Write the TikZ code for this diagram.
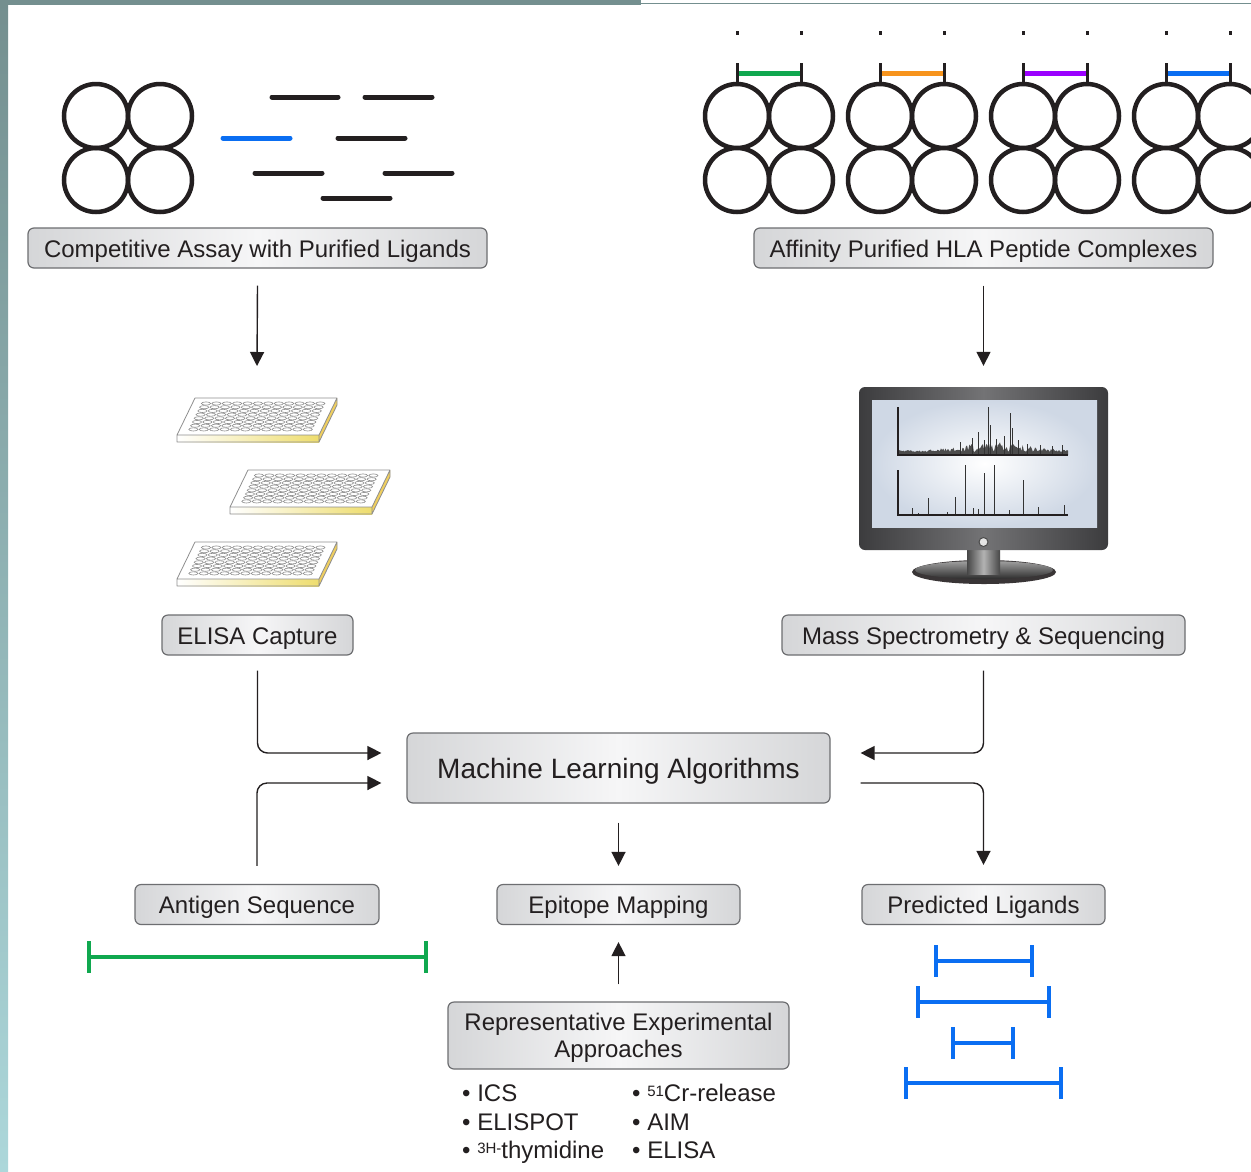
\documentclass[tikz,border=0pt]{standalone}
\usepackage{fontspec}
\setmainfont{Liberation Sans}
\usetikzlibrary{arrows.meta}
\definecolor{ink}{HTML}{231F20}
\definecolor{frame}{HTML}{748F8F}
\definecolor{framelow}{HTML}{ACD7DA}
\definecolor{boxedge}{HTML}{6D6E71}
\definecolor{boxside}{HTML}{D5D6D8}
\definecolor{boxmid}{HTML}{F6F6F7}
\definecolor{pgreen}{HTML}{10A84F}
\definecolor{porange}{HTML}{F7941D}
\definecolor{ppurple}{HTML}{9B00FF}
\definecolor{pblue}{HTML}{0A6EF2}
\definecolor{wellgray}{HTML}{8E8E8E}
\definecolor{plateyel}{HTML}{EEDD6E}
\definecolor{screenbg}{HTML}{CFD8E5}
\definecolor{bezeldark}{HTML}{3C3C3E}
\definecolor{bezellight}{HTML}{737375}
\newcommand{\smallsup}[1]{\raisebox{5pt}{\fontsize{15}{15}\selectfont #1}}
\tikzset{
  tag/.style={draw=boxedge, line width=1.2pt, rounded corners=6pt,
    left color=boxside, right color=boxside, middle color=boxmid,
    minimum height=40pt, inner xsep=8pt, text=ink, text height=20pt, text depth=2pt,
    font=\fontsize{24}{27}\selectfont},
  flow/.style={->, draw=ink, line width=1.4pt, rounded corners=10pt},
  ring/.style={draw=ink, line width=4.5pt},
  strand/.style={line width=5pt, line cap=round},
  seqbar/.style={line width=4pt},
  item/.style={anchor=base west, inner sep=0pt, text=ink, font=\fontsize{24}{27}\selectfont}
}
\begin{document}
\begin{tikzpicture}[x=1pt,y=-1pt,>={Triangle[length=14pt,width=14pt]}]
\useasboundingbox (0,0) rectangle (1251,1171);
\fill[white] (0,0) rectangle (1251,1171);
\shade[top color=frame, bottom color=framelow] (0,0) rectangle (8,1171);
\fill[frame] (0,0) rectangle (641,4.5);
\draw[frame, line width=1.2pt] (641,3.5) -- (1251,3.5);

% purified ligands
\foreach \cx in {96,160}
  \foreach \cy in {116,180}
    \draw[ring] (\cx,\cy) circle (32pt);
\foreach \a/\b/\y in {272/338/97, 365/432/97, 338/405/138, 255/322/173, 385/452/173, 323/390/198}
  \draw[strand, ink] (\a,\y) -- (\b,\y);
\draw[strand, pblue] (223,138) -- (290,138);

% HLA peptide complexes
\foreach \gx/\col in {737/pgreen, 880/porange, 1023/ppurple, 1166/pblue}{
  \draw[\col, line width=5pt] (\gx,73) -- (\gx+64,73);
  \foreach \dx in {0,64}{
    \draw[ring] (\gx+\dx,116) circle (32pt) (\gx+\dx,180) circle (32pt);
    \draw[ink, line width=3pt] (\gx+\dx,63) -- (\gx+\dx,86);
    \fill[ink] (\gx+\dx-1.5,31) rectangle ++(3,4);
  }
}

\node[tag, minimum width=459pt] (comp) at (257.5,248) {Competitive Assay with Purified Ligands};
\node[tag, minimum width=459pt] (affin) at (983.5,248) {Affinity Purified HLA Peptide Complexes};

% plates
\foreach \px/\py in {195/398, 248/470, 195/542}{
  \fill[white] (\px,\py) -- ++(142,0) -- ++(-18,37) -- ++(-142,0) -- cycle;
  \shade[left color=white, right color=plateyel] (\px-18,\py+37) rectangle (\px+124,\py+44);
  \fill[plateyel!85!orange] (\px+142,\py) -- (\px+124,\py+37) -- (\px+124,\py+44) -- (\px+142,\py+7) -- cycle;
  \draw[wellgray, line width=0.8pt, line join=round] (\px,\py) -- ++(142,0) -- ++(0,7)
    -- (\px+124,\py+44) -- (\px-18,\py+44) -- (\px-18,\py+37) -- cycle
    (\px-18,\py+37) -- (\px+124,\py+37) -- (\px+142,\py) (\px+124,\py+37) -- (\px+124,\py+44);
  \foreach \i in {0,...,11}
    \foreach \j in {0,...,7}
      \draw[wellgray, line width=0.6pt, fill=white] (\px+11+10.4*\i-1.8*\j,\py+5.5+3.7*\j) ellipse (4.6pt and 1.6pt);
}
\coordinate (plates) at (257,366);

% monitor
\fill[ink!90] (984,572) ellipse (72pt and 12pt);
\shade[top color=gray!75, bottom color=gray!35!black] (984,570) ellipse (69pt and 9pt);
\shade[left color=gray!55!black, right color=gray!55!black, middle color=gray!60] (967,548) rectangle (1000,574);
\node[minimum width=249pt, minimum height=163pt, inner sep=0pt, rounded corners=6pt,
  left color=bezeldark, right color=bezeldark, middle color=bezellight] (monitor) at (983.5,468.5) {};
\shade[inner color=white, outer color=screenbg] (872,400) rectangle (1097,527);
\draw[black!70, fill=gray!20, line width=1pt] (983.5,542) circle (4.5pt);
\pgfmathsetseed{11}
\fill[black!70] (899,455) -- plot[domain=899:1068, samples=150] (\x,{452-(2+8*exp(-((\x-995)/45)^2))*rnd}) -- (1068,455) -- cycle;
\foreach \sx/\sy in {960/442, 972/438, 978/432, 984/440, 988/407, 990/425, 996/439, 1004/436, 1010/413, 1012/428, 1018/440, 1027/444, 1040/445, 1052/446, 1062/445}
  \draw[black!80, line width=0.9pt] (\sx,454) -- (\sx,\sy);
\foreach \sx/\sy in {912/508, 918/513, 928/498, 947/512, 955/497, 965/465, 973/508, 978/509, 984/473, 994/465, 1009/510, 1023/480, 1038/507, 1064/505}
  \draw[black!80, line width=1pt] (\sx,515) -- (\sx,\sy);
\draw[ink, line width=1.2pt] (898,407) -- (898,455) -- (1068,455) (898,470) -- (898,515) -- (1068,515);

\node[tag, minimum width=191pt] (elisa) at (257.5,635) {ELISA Capture};
\node[tag, minimum width=403pt] (mass) at (983.5,635) {Mass Spectrometry \& Sequencing};
\node[tag, minimum width=423pt, minimum height=70pt, text height=23pt, font=\fontsize{28}{30}\selectfont] (ml) at (618.5,768) {Machine Learning Algorithms};
\node[tag, minimum width=244pt] (antigen) at (257,904.5) {Antigen Sequence};
\node[tag, minimum width=243pt] (epi) at (618.5,904.5) {Epitope Mapping};
\node[tag, minimum width=243pt] (pred) at (983.5,904.5) {Predicted Ligands};
\node[tag, minimum width=341pt, minimum height=67pt, align=center, text height=46.5pt, text depth=3.5pt] (rep) at (618.5,1035.5) {Representative Experimental\\Approaches};

\draw[flow] ([yshift=-17pt]comp.south) -- (plates);
\draw[flow] ([yshift=-17pt]affin.south) -- ([yshift=21pt]monitor.north);
\draw[flow] ([yshift=-15pt]elisa.south) |- ([xshift=-25pt,yshift=15pt]ml.west);
\draw[flow] ([yshift=18pt]antigen.north) |- ([xshift=-25pt,yshift=-15pt]ml.west);
\draw[flow] ([yshift=-15pt]mass.south) |- ([xshift=30pt,yshift=15pt]ml.east);
\draw[flow] ([xshift=30pt,yshift=-15pt]ml.east) -| ([yshift=19pt]pred.north);
\draw[flow] ([yshift=-19pt]ml.south) -- ([yshift=18pt]epi.north);
\draw[flow] ([yshift=17pt]rep.north) -- ([yshift=-17pt]epi.south);

% sequences
\draw[seqbar, pgreen] (89,941) -- (89,973) (89,957) -- (426,957) (426,941) -- (426,973);
\foreach \a/\b/\y in {936/1032/961, 918/1049/1002, 953/1013/1043, 906/1061/1083}
  \draw[seqbar, pblue] (\a,\y-16) -- (\a,\y+16) (\a,\y) -- (\b,\y) (\b,\y-16) -- (\b,\y+16);

\node[item] (ics) at (462,1101) {• ICS};
\node[item] (elispot) at (462,1130) {• ELISPOT};
\node[item] (thym) at (462,1158) {• \smallsup{3H-}thymidine};
\node[item] (cr) at (632,1101) {• \smallsup{51}Cr-release};
\node[item] (aim) at (632,1130) {• AIM};
\node[item] (elisa2) at (632,1158) {• ELISA};
\end{tikzpicture}
\end{document}
